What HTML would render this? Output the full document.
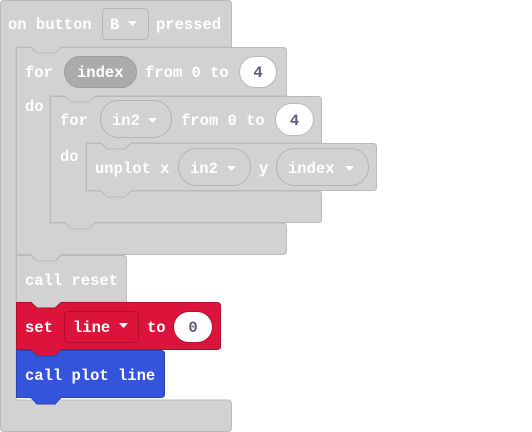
<!DOCTYPE html>
<html><head><meta charset="utf-8"><style>
html,body{margin:0;padding:0;background:#fff;width:532px;height:432px;overflow:hidden}
svg text{font-family:"Liberation Mono",monospace;font-weight:bold;font-size:15.5px;fill:#fff}
</style></head><body>
<svg width="532" height="432" viewBox="0 0 532 432" xmlns="http://www.w3.org/2000/svg">
<g stroke-width="1" stroke-linejoin="round">
<path d="M0.5,4 Q0.5,0.5 4,0.5 H228 Q231.5,0.5 231.5,4 V47 H61 L55,53 H37 L31,47 H16 V400 H228 Q231.5,400 231.5,404 V428 Q231.5,431.5 228,431.5 H4 Q0.5,431.5 0.5,428 Z" fill="#d2d2d2" stroke="#bababa"/>
<path d="M16.5,47.5 H31 L37,53 H55 L61,47.5 H283 Q286.5,47.5 286.5,51 V96 H95 L89,102 H71 L65,96 H50 V223 H283 Q286.5,223 286.5,227 V251 Q286.5,254.5 283,254.5 H61 L55,261 H37 L31,254.5 H16.5 Z" fill="#d2d2d2" stroke="#bababa"/>
<path d="M50.5,96.5 H65 L71,102 H89 L95,96.5 H318 Q321.5,96.5 321.5,100 V143 H131 L125,149 H107 L101,143 H86 V191 H318 Q321.5,191 321.5,195 V219 Q321.5,222.5 318,222.5 H95 L89,229 H71 L65,222.5 H50.5 Z" fill="#d2d2d2" stroke="#bababa"/>
<path d="M86.5,143.5 H101 L107,149 H125 L131,143.5 H373 Q376.5,143.5 376.5,147 V187 Q376.5,190.5 373,190.5 H131 L125,197 H107 L101,190.5 H86.5 Z" fill="#d2d2d2" stroke="#bababa"/>
<path d="M16.5,255.5 H31 L37,261 H55 L61,255.5 H123 Q126.5,255.5 126.5,259 V302 H61 L55,308 H37 L31,302 H16.5 Z" fill="#d2d2d2" stroke="#bababa"/>
<path d="M16.5,302.5 H31 L37,308 H55 L61,302.5 H217 Q220.5,302.5 220.5,306 V346 Q220.5,349.5 217,349.5 H61 L55,356 H37 L31,349.5 H16.5 Z" fill="#dc143c" stroke="#b0102f"/>
<path d="M16.5,350.5 H31 L37,356 H55 L61,350.5 H161 Q164.5,350.5 164.5,354 V394 Q164.5,397.5 161,397.5 H61 L55,404 H37 L31,397.5 H16.5 Z" fill="#3455db" stroke="#2a44af"/>
</g>
<!-- fields -->
<rect x="102.5" y="8.5" width="46" height="31" rx="4" fill="#d2d2d2" stroke="#b5b5b5"/>
<path d="M128,21 h9 l-4.5,5 z" fill="#fff"/>
<rect x="64.5" y="56.5" width="72" height="31" rx="15.5" fill="#ababab" stroke="#9c9c9c"/>
<rect x="239.5" y="56.5" width="37" height="31" rx="15.5" fill="#fff" stroke="#bababa"/>
<rect x="100.5" y="100.5" width="71" height="37" rx="18" fill="#d2d2d2" stroke="#b5b5b5"/>
<path d="M148,118 h9 l-4.5,5 z" fill="#fff"/>
<rect x="275.5" y="103.5" width="38" height="32" rx="16" fill="#fff" stroke="#bababa"/>
<rect x="178.5" y="148.5" width="72" height="37" rx="18" fill="#d2d2d2" stroke="#b5b5b5"/>
<path d="M227,166 h9 l-4.5,5 z" fill="#fff"/>
<rect x="276.5" y="148.5" width="92" height="37" rx="18" fill="#d2d2d2" stroke="#b5b5b5"/>
<path d="M345,166 h9 l-4.5,5 z" fill="#fff"/>
<rect x="64.5" y="311.5" width="74" height="31" rx="4" fill="#dc143c" stroke="#b0102f"/>
<path d="M119,323 h9 l-4.5,5 z" fill="#fff"/>
<rect x="173.5" y="311.5" width="39" height="31" rx="15.5" fill="#fff" stroke="#b0102f"/>
<!-- text -->
<text x="8" y="29">on button</text>
<text x="110" y="29">B</text>
<text x="156" y="29">pressed</text>
<text x="25" y="77">for</text>
<text x="77" y="77">index</text>
<text x="145" y="77">from 0 to</text>
<text x="258" y="77" text-anchor="middle" style="fill:#575e75">4</text>
<text x="25" y="111">do</text>
<text x="60" y="125">for</text>
<text x="112" y="125">in2</text>
<text x="181" y="125">from 0 to</text>
<text x="294.5" y="125" text-anchor="middle" style="fill:#575e75">4</text>
<text x="60" y="161">do</text>
<text x="95" y="173">unplot x</text>
<text x="190" y="173">in2</text>
<text x="259" y="173">y</text>
<text x="288" y="173">index</text>
<text x="25" y="285">call reset</text>
<text x="25" y="332">set</text>
<text x="73" y="332">line</text>
<text x="147" y="332">to</text>
<text x="193" y="332" text-anchor="middle" style="fill:#575e75">0</text>
<text x="25" y="380">call plot line</text>
</svg>
</body></html>
